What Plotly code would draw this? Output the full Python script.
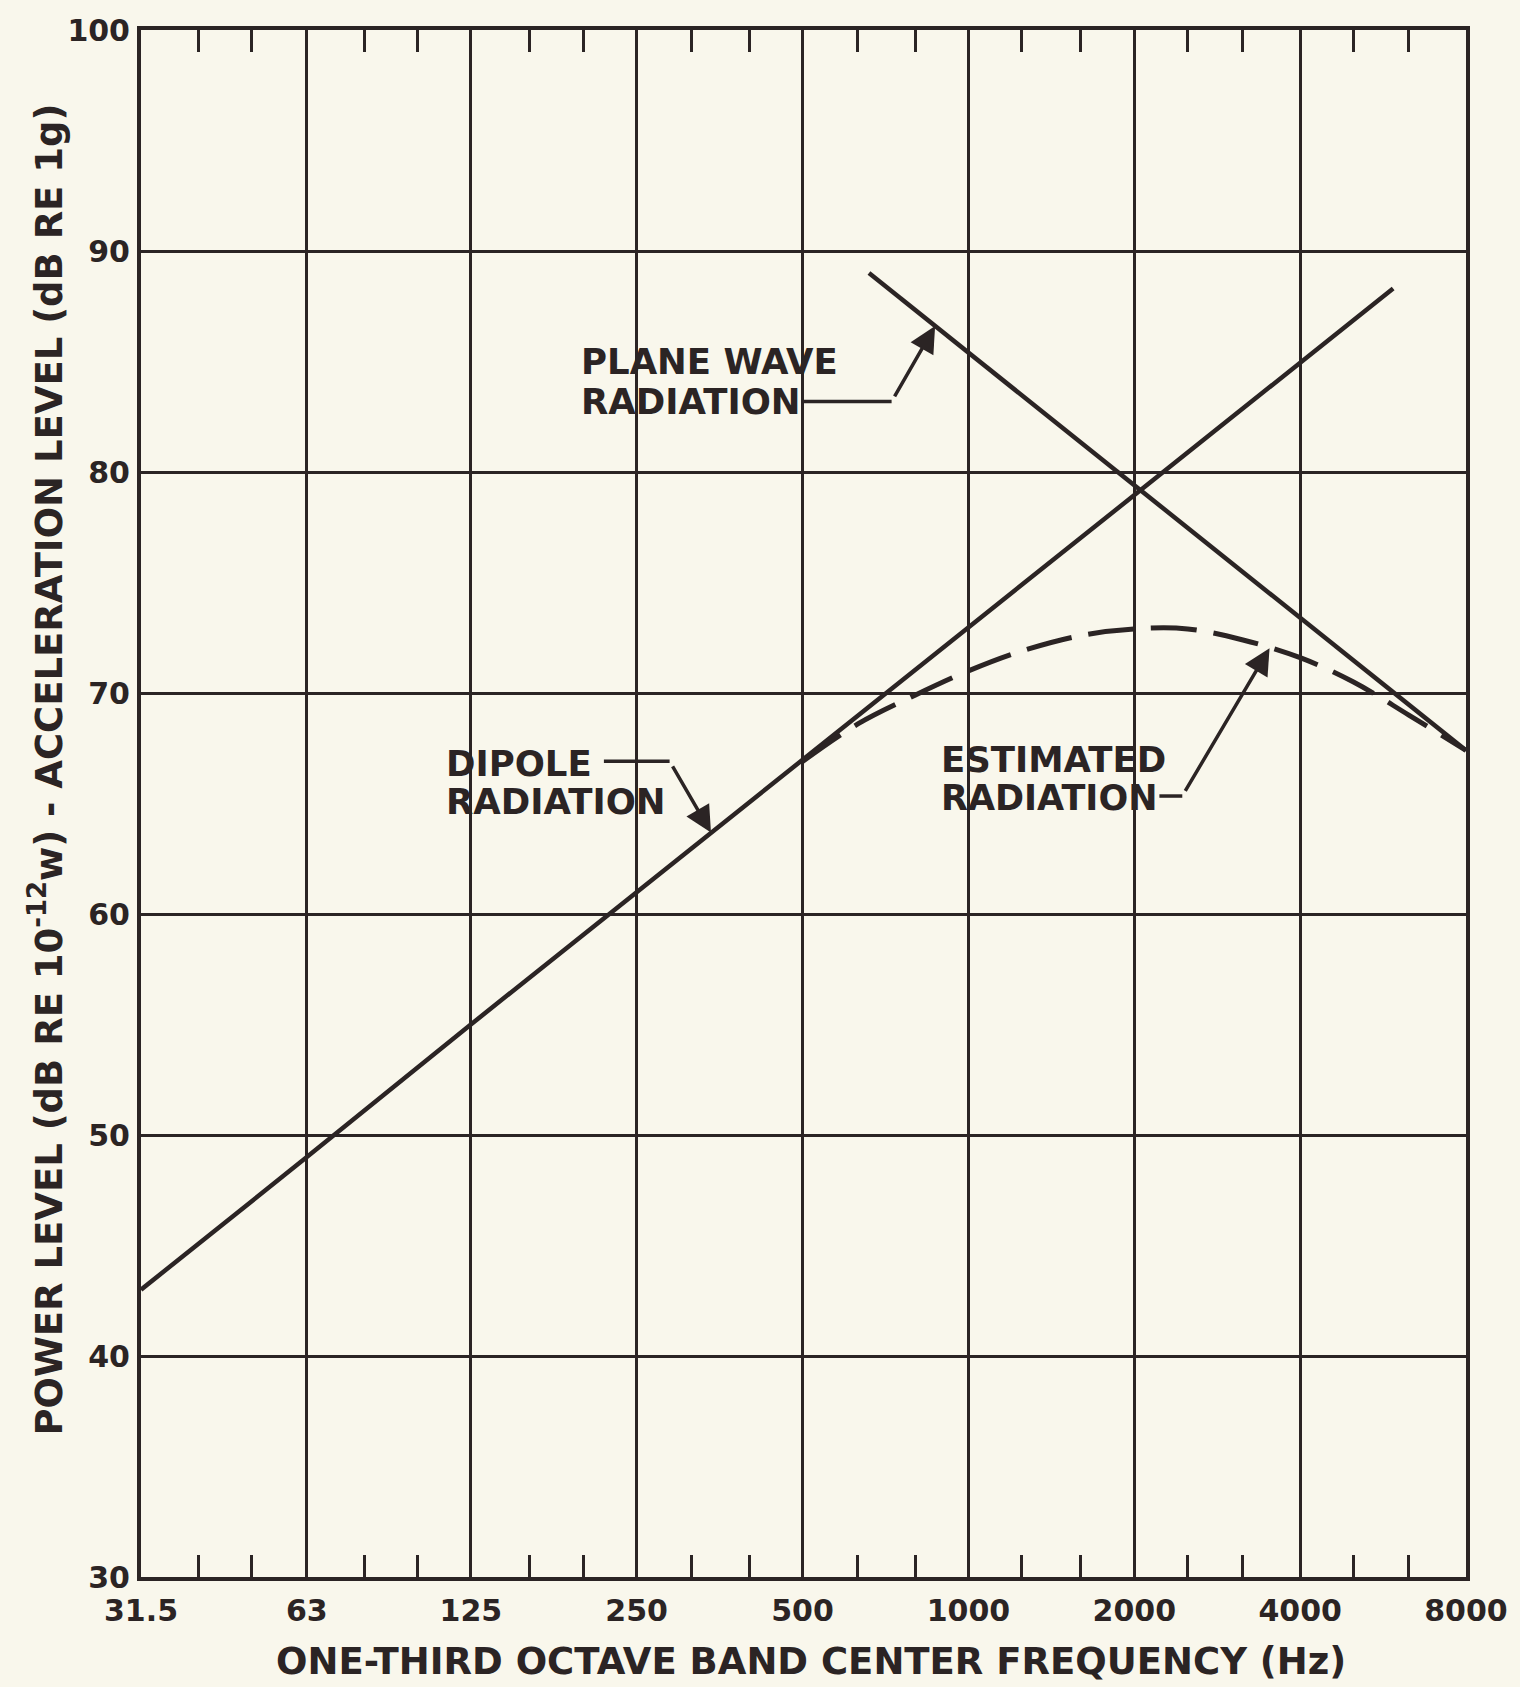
import numpy as np
import plotly.graph_objects as go

# Octave band centres (grid lines) and one-third octave bands (minor ticks)
band_freqs = [31.5, 63, 125, 250, 500, 1000, 2000, 4000, 8000]
band_labels = ["31.5", "63", "125", "250", "500", "1000", "2000", "4000", "8000"]
third_octave_freqs = [40, 50, 80, 100, 160, 200, 315, 400, 630, 800,
                      1250, 1600, 2500, 3150, 5000, 6300]
level_ticks = [30, 40, 50, 60, 70, 80, 90, 100]

# Dipole radiation (rises 6 dB per octave)
dipole_freq = [31.5, 63, 125, 250, 500, 1000, 2000, 4000, 5900]
dipole_level = [43.0, 49.0, 55.0, 61.0, 67.0, 73.0, 79.0, 85.0, 88.3]

# Plane wave radiation (falls 6 dB per octave)
plane_freq = [660, 1000, 2000, 4000, 8000]
plane_level = [89.0, 85.4, 79.4, 73.4, 67.4]

# Estimated radiation (dashed transition curve)
estimated_freq = [500, 630, 800, 1000, 1250, 1600, 2000, 2500, 3150, 4000, 5000, 6300, 8000]
estimated_level = [66.9, 68.6, 69.9, 71.0, 71.9, 72.6, 72.9, 72.9, 72.4, 71.6, 70.5, 69.0, 67.4]

INK = "#2b2424"
PAPER = "#f9f7ec"
FONT = "DejaVu Sans"

W, H = 1520, 1687
L, R, T, B = 141, 48, 24, 110
PW, PH = W - L - R, H - T - B
X_MIN, X_MAX = np.log10(31.5), np.log10(8000)
Y_MIN, Y_MAX = 30, 100


def px_to_logx(px):
    return X_MIN + (px - L) / PW * (X_MAX - X_MIN)


def py_to_y(py):
    return Y_MIN + (T + PH - py) / PH * (Y_MAX - Y_MIN)


def px_to_paper(px):
    return (px - L) / PW


def py_to_paper(py):
    return (T + PH - py) / PH


def level_at(freqs, levels, f):
    return float(np.interp(np.log10(f), np.log10(freqs), levels))


fig = go.Figure()

line_style = dict(color=INK, width=4.5)
fig.add_trace(go.Scatter(x=dipole_freq, y=dipole_level, mode="lines",
                         line=line_style, name="Dipole radiation"))
fig.add_trace(go.Scatter(x=plane_freq, y=plane_level, mode="lines",
                         line=line_style, name="Plane wave radiation"))
fig.add_trace(go.Scatter(x=estimated_freq, y=estimated_level, mode="lines",
                         line=dict(color=INK, width=5, dash="46px,17px",
                                   shape="spline", smoothing=1.0),
                         name="Estimated radiation"))

annotations = []


def label(text, left_px, center_py, size=35.5):
    annotations.append(dict(
        text=text, xref="paper", yref="paper",
        x=px_to_paper(left_px), y=py_to_paper(center_py),
        xanchor="left", yanchor="middle", showarrow=False,
        font=dict(family=FONT, size=size, color=INK, weight="bold")))


def leader(x0, x1, py):
    fig.add_shape(type="line", xref="paper", yref="paper",
                  x0=px_to_paper(x0), x1=px_to_paper(x1),
                  y0=py_to_paper(py), y1=py_to_paper(py),
                  line=dict(color=INK, width=3.5))


def arrow(tip_f, tip_level, tail_px, tail_py):
    annotations.append(dict(
        text=" ", x=np.log10(tip_f), y=tip_level, xref="x", yref="y",
        ax=px_to_logx(tail_px), ay=py_to_y(tail_py), axref="x", ayref="y",
        showarrow=True, arrowhead=2, arrowsize=1.5, arrowwidth=3.5,
        arrowcolor=INK, standoff=0))


# PLANE WAVE RADIATION callout
label("PLANE WAVE", 581, 357)
label("RADIATION", 581, 397)
leader(805, 895, 397)
arrow(870, level_at(plane_freq, plane_level, 870), 895, 397)

# DIPOLE RADIATION callout
label("DIPOLE", 445, 760)
label("RADIATION", 445, 798)
leader(606, 672, 758)
arrow(341, level_at(dipole_freq, dipole_level, 341), 672, 758)

# ESTIMATED RADIATION callout
label("ESTIMATED", 943, 756)
label("RADIATION", 943, 795, size=35)
leader(1164, 1187, 793)
arrow(3520, level_at(estimated_freq, estimated_level, 3520), 1187, 793)

# Axis titles
annotations.append(dict(
    text="ONE-THIRD OCTAVE BAND CENTER FREQUENCY (Hz)",
    xref="paper", yref="paper", x=px_to_paper(814), y=py_to_paper(1662),
    xanchor="center", yanchor="middle", showarrow=False,
    font=dict(family=FONT, size=37, color=INK, weight="bold")))
annotations.append(dict(
    text="POWER LEVEL (dB RE 10<sup>-12</sup>w) - ACCELERATION LEVEL (dB RE 1g)",
    xref="paper", yref="paper", x=px_to_paper(46), y=py_to_paper(766),
    xanchor="center", yanchor="middle", textangle=-90, showarrow=False,
    font=dict(family=FONT, size=37, color=INK, weight="bold")))

fig.update_layout(
    width=W, height=H,
    margin=dict(l=L, r=R, t=T, b=B, pad=0),
    paper_bgcolor=PAPER, plot_bgcolor=PAPER,
    showlegend=False,
    annotations=annotations,
    xaxis=dict(
        type="log", range=[X_MIN, X_MAX],
        tickmode="array", tickvals=band_freqs, ticktext=band_labels,
        ticks="", showgrid=True, gridcolor=INK, gridwidth=3,
        showline=True, linecolor=INK, linewidth=4, mirror="ticks",
        zeroline=False, ticklabelstandoff=4,
        tickfont=dict(family=FONT, size=30, color=INK, weight="bold"),
        minor=dict(tickmode="array", tickvals=third_octave_freqs,
                   ticks="inside", ticklen=22, tickwidth=3,
                   tickcolor=INK, showgrid=False),
    ),
    yaxis=dict(
        range=[Y_MIN, Y_MAX], tickmode="array", tickvals=level_ticks,
        ticks="", showgrid=True, gridcolor=INK, gridwidth=3,
        showline=True, linecolor=INK, linewidth=4, mirror=True,
        zeroline=False, ticklabelstandoff=1,
        tickfont=dict(family=FONT, size=30, color=INK, weight="bold"),
    ),
)

fig.write_html("out.html")
